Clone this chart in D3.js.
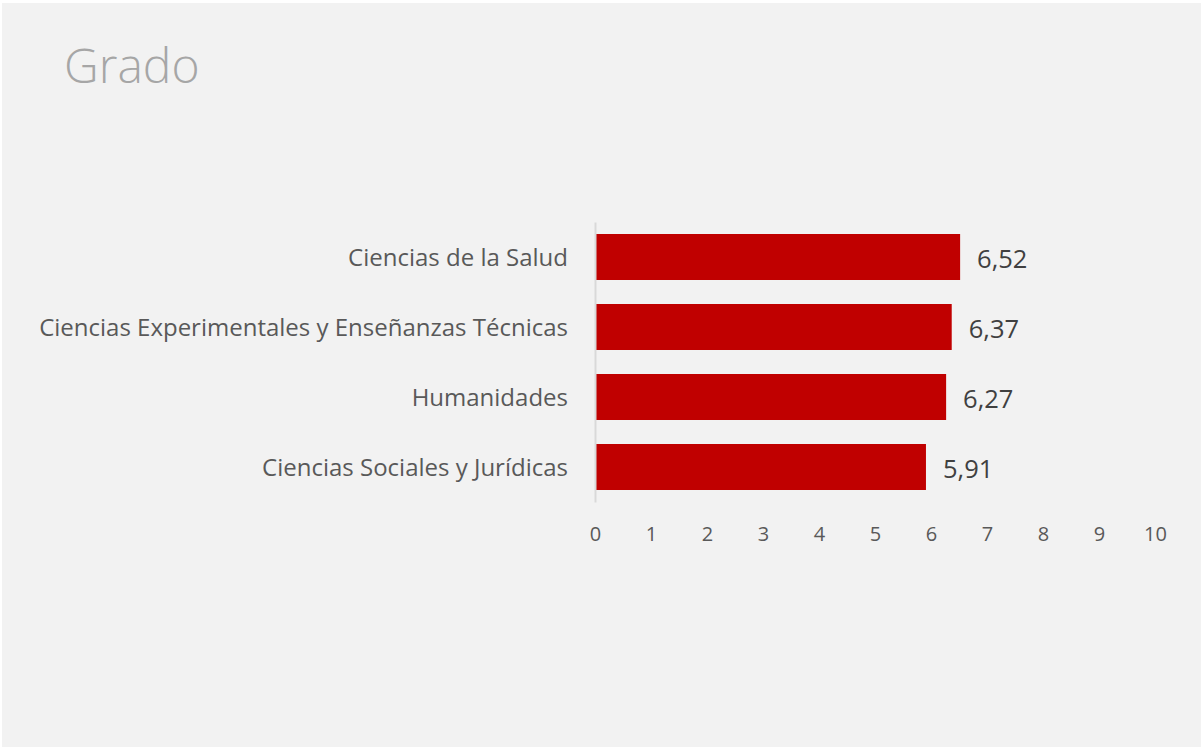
<!DOCTYPE html>
<html>
<head>
<meta charset="utf-8">
<script src="https://cdn.jsdelivr.net/npm/d3@7"></script>
<style>
  html, body { margin: 0; padding: 0; background: #ffffff; }
  svg { display: block; font-family: "Open Sans", sans-serif; }
</style>
</head>
<body>
<div id="chart"></div>
<script>

//**************************************************************************
//** data
//**************************************************************************
var title = "Grado";
var categories = [
    "Ciencias de la Salud",
    "Ciencias Experimentales y Enseñanzas Técnicas",
    "Humanidades",
    "Ciencias Sociales y Jurídicas"
];
var values = [6.52, 6.37, 6.27, 5.91];
var tickValues = [0, 1, 2, 3, 4, 5, 6, 7, 8, 9, 10];


//**************************************************************************
//** drawChart
//**************************************************************************
var width = 1203, height = 750;
var plot = {left: 595, right: 1155, top: 222, bottom: 502};

var svg = d3.select("#chart").append("svg")
    .attr("width", width)
    .attr("height", height);

//Background panel
svg.append("rect")
    .attr("x", 2).attr("y", 3)
    .attr("width", width - 4).attr("height", height - 6)
    .attr("fill", "#f2f2f2");

//Title
svg.append("text")
    .attr("x", 64)
    .attr("y", 83)
    .attr("font-size", 48)
    .attr("font-weight", 300)
    .attr("fill", "#a6a6a6")
    .text(title);

var x = d3.scaleLinear()
    .domain([0, 10])
    .range([plot.left, plot.right]);

var y = d3.scaleBand()
    .domain(categories)
    .range([plot.top, plot.bottom])
    .paddingInner(0.343)
    .paddingOuter(0.1715);

var g = svg.append("g");

//Bars
g.selectAll("rect.bar")
    .data(values)
    .enter()
    .append("rect")
    .attr("class", "bar")
    .attr("x", x(0))
    .attr("y", function(d, i){ return y(categories[i]); })
    .attr("width", function(d){ return x(d) - x(0); })
    .attr("height", y.bandwidth())
    .attr("fill", "#c00000");

//Value labels
var fmt = function(d){ return d3.format(".2f")(d).replace(".", ","); };
g.selectAll("text.val")
    .data(values)
    .enter()
    .append("text")
    .attr("class", "val")
    .attr("x", function(d){ return x(d) + 17; })
    .attr("y", function(d, i){ return y(categories[i]) + y.bandwidth()/2; })
    .attr("dy", "0.42em")
    .attr("font-size", 25.5)
    .attr("fill", "#404040")
    .text(fmt);

//Vertical axis (categories)
var yAxis = g.append("g")
    .attr("transform", "translate(" + x(0) + ",0)")
    .call(d3.axisLeft(y).tickSize(0).tickPadding(27));
yAxis.select(".domain")
    .attr("stroke", "#d9d9d9")
    .attr("stroke-width", 2);
yAxis.selectAll("text")
    .attr("font-family", "Open Sans, sans-serif")
    .attr("font-size", 24)
    .attr("dy", "0.38em")
    .attr("fill", "#595959");

//Horizontal axis (ticks only)
var xAxis = g.append("g")
    .attr("transform", "translate(0," + (plot.bottom + 25) + ")")
    .call(d3.axisBottom(x).tickValues(tickValues).tickSize(0).tickPadding(0));
xAxis.select(".domain").remove();
xAxis.selectAll("text")
    .attr("font-family", "Open Sans, sans-serif")
    .attr("font-size", 20)
    .attr("fill", "#595959");

</script>
</body>
</html>
